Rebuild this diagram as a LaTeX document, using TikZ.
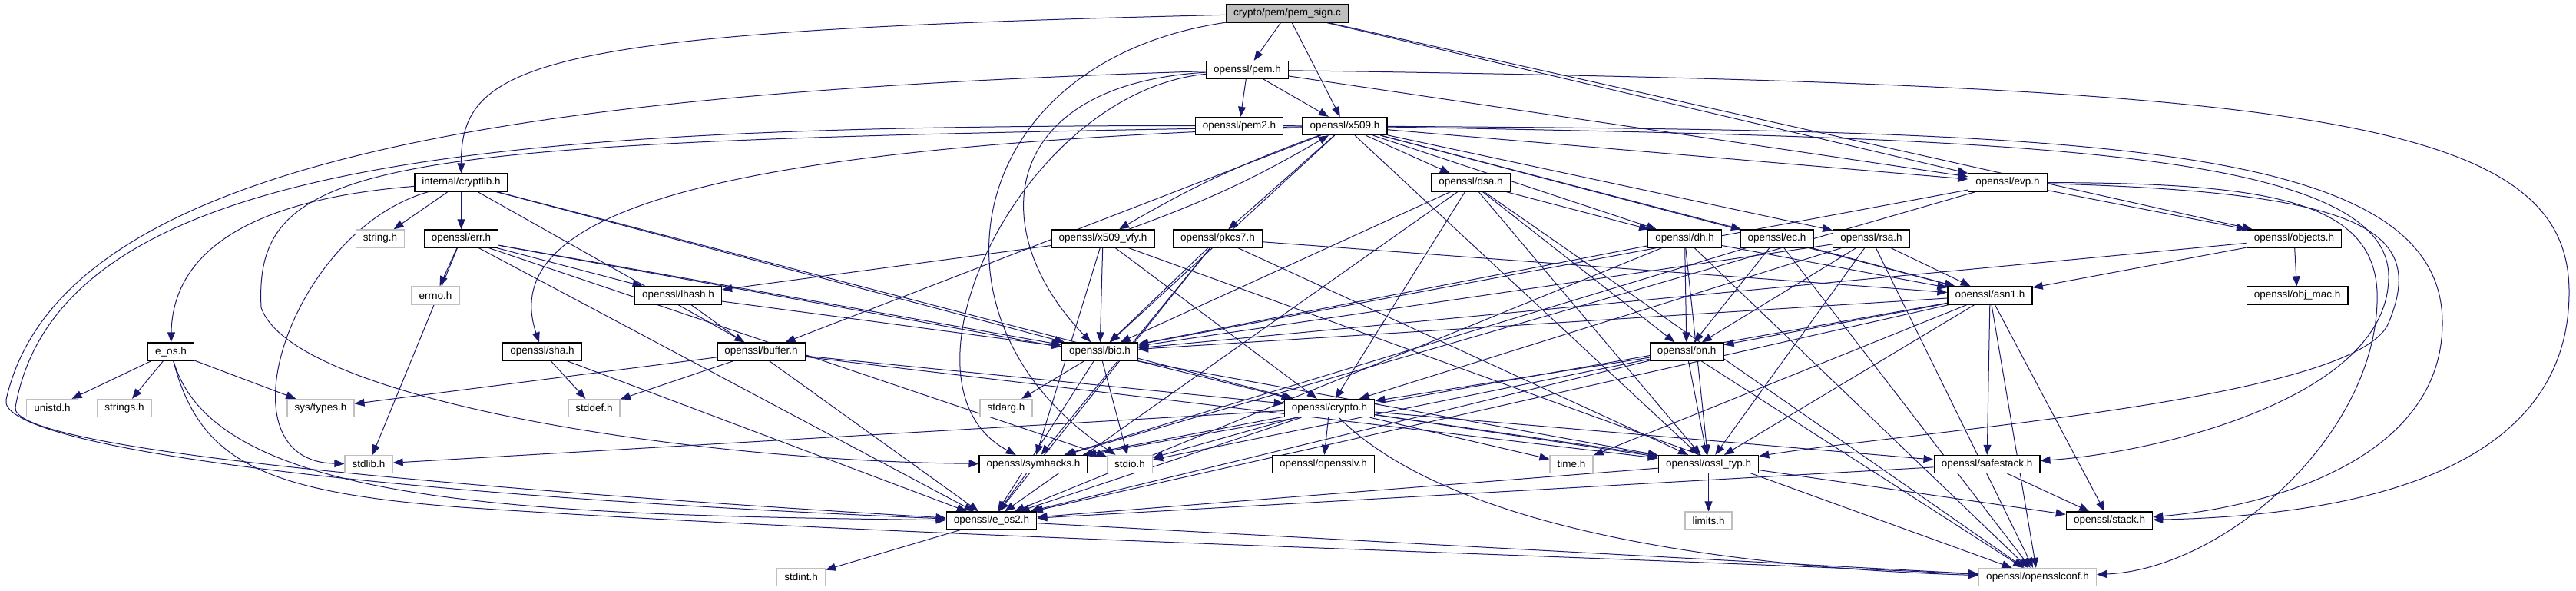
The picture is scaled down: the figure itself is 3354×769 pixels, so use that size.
\documentclass[tikz,border=0pt]{standalone}
\usepackage{fontspec}
\setmainfont{Liberation Sans}
\usetikzlibrary{arrows.meta,backgrounds}
\definecolor{navyedge}{RGB}{25,25,112}
\definecolor{stubgray}{RGB}{191,191,191}
\definecolor{srcgray}{RGB}{191,191,191}

\begin{document}
\begin{tikzpicture}[
  x=0.5pt, y=-0.5pt,
  font=\fontsize{6.75}{8}\selectfont,
  header/.style={draw=black, line width=0.65pt, fill=white, inner xsep=4.8pt, inner ysep=0pt, minimum height=11.5pt},
  syshdr/.style={header, draw=stubgray},
  source/.style={header, fill=srcgray},
  dep/.style={draw=navyedge, line width=0.5pt, -{Triangle[length=6.5pt,width=5pt]}}
]
\useasboundingbox (0,0) rectangle (3354,769);

% rows follow the include depth
\node[source] (pemsign) at (1676,17.5) {crypto/pem/pem\_sign.c};
\node[header] (pem) at (1624,91) {openssl/pem.h};
\node[header] (pemtwo) at (1613.5,164) {openssl/pem2.h};
\node[header] (x509) at (1751,164) {openssl/x509.h};
\node[header] (cryptlib) at (600.5,237.5) {internal/cryptlib.h};
\node[header] (dsa) at (1915,237.5) {openssl/dsa.h};
\node[header] (evp) at (2614,237.5) {openssl/evp.h};
\node[syshdr] (string) at (495,310.5) {string.h};
\node[header] (err) at (600.5,310.5) {openssl/err.h};
\node[header] (x509vfy) at (1436,310.5) {openssl/x509\_vfy.h};
\node[header] (pkcs7) at (1585.5,310.5) {openssl/pkcs7.h};
\node[header] (dh) at (2193.5,310.5) {openssl/dh.h};
\node[header] (ec) at (2313.5,310.5) {openssl/ec.h};
\node[header] (rsa) at (2436.5,310.5) {openssl/rsa.h};
\node[header] (objects) at (2987,310.5) {openssl/objects.h};
\node[syshdr] (errno) at (567,384.5) {errno.h};
\node[header] (lhash) at (883,384.5) {openssl/lhash.h};
\node[header] (asn1) at (2591,384.5) {openssl/asn1.h};
\node[header] (objmac) at (2991,384.5) {openssl/obj\_mac.h};
\node[header] (eos) at (222.5,457.5) {e\_os.h};
\node[header] (sha) at (706,457.5) {openssl/sha.h};
\node[header] (buffer) at (991,457.5) {openssl/buffer.h};
\node[header] (bio) at (1432,457.5) {openssl/bio.h};
\node[header] (bn) at (2196,457.5) {openssl/bn.h};
\node[syshdr] (unistd) at (68,531) {unistd.h};
\node[syshdr] (strings) at (162,531) {strings.h};
\node[syshdr] (systypes) at (417.5,531) {sys/types.h};
\node[syshdr] (stddef) at (773.5,531) {stddef.h};
\node[syshdr] (stdarg) at (1310,531) {stdarg.h};
\node[header] (crypto) at (1731,531) {openssl/crypto.h};
\node[syshdr] (stdlib) at (480,604) {stdlib.h};
\node[header] (symhacks) at (1345.5,604) {openssl/symhacks.h};
\node[syshdr] (stdio) at (1471,604) {stdio.h};
\node[header] (opensslv) at (1723,604) {openssl/opensslv.h};
\node[syshdr] (time) at (2046,604) {time.h};
\node[header] (ossltyp) at (2224.5,604) {openssl/ossl\_typ.h};
\node[header] (safestack) at (2587,604) {openssl/safestack.h};
\node[header] (eostwo) at (1291,677.5) {openssl/e\_os2.h};
\node[syshdr] (limits) at (2224.5,677.5) {limits.h};
\node[header] (stack) at (2746.5,677.5) {openssl/stack.h};
\node[syshdr] (stdint) at (1043,751) {stdint.h};
\node[syshdr] (opensslconf) at (2653,751) {openssl/opensslconf.h};

\begin{scope}[on background layer]
% crypto/pem/pem_sign.c
\draw[dep] (pemsign) -- (pem);
\draw[dep] (pemsign) -- (x509);
\draw[dep] (pemsign) -- (evp);
\draw[dep] (pemsign) -- (objects);
\draw[dep] (pemsign) .. controls (700,40) and (600,80) .. (cryptlib);
\draw[dep] (pemsign) .. controls (1250,80) and (1190,420) .. (stdio);
% openssl/pem.h
\draw[dep] (pem) -- (pemtwo);
\draw[dep] (pem) -- (x509);
\draw[dep] (pem) -- (evp);
\draw[dep] (pem) .. controls (1300,110) and (1280,300) .. (bio);
\draw[dep] (pem) .. controls (1330,120) and (1150,500) .. (symhacks);
\draw[dep] (pem) .. controls (3000,110) and (3345,150) .. (3345,380) .. controls (3345,600) and (3100,670) .. (stack);
\draw[dep] (pem) .. controls (700,120) and (80,200) .. (8,520) .. controls (-4,575) and (400,640) .. (eostwo);
% openssl/x509.h
\draw[dep] (x509) to[bend right=5] (x509vfy);
\draw[dep] (x509vfy) to[bend right=5] (x509);
\draw[dep] (x509) -- (pkcs7);
\draw[dep] (x509) -- (dsa);
\draw[dep] (x509) -- (dh);
\draw[dep] (x509) -- (ec);
\draw[dep] (x509) -- (rsa);
\draw[dep] (x509) -- (evp);
\draw[dep] (x509) -- (asn1);
\draw[dep] (x509) -- (bio);
\draw[dep] (x509) -- (buffer);
\draw[dep] (x509) -- (ossltyp);
\draw[dep] (x509) .. controls (1000,190) and (640,260) .. (sha);
\draw[dep] (x509) .. controls (500,185) and (330,200) .. (340,400) .. controls (380,520) and (900,600) .. (symhacks);
\draw[dep] (x509) .. controls (700,160) and (80,190) .. (20,530) .. controls (12,580) and (500,630) .. (eostwo);
\draw[dep] (x509) .. controls (2600,180) and (3110,190) .. (3110,360) .. controls (3110,520) and (2800,590) .. (safestack);
\draw[dep] (x509) .. controls (2700,170) and (3180,180) .. (3180,420) .. controls (3180,600) and (2950,660) .. (stack);
% internal/cryptlib.h
\draw[dep] (cryptlib) -- (string);
\draw[dep] (cryptlib) -- (err);
\draw[dep] (cryptlib) -- (buffer);
\draw[dep] (cryptlib) -- (bio);
\draw[dep] (cryptlib) -- (crypto);
\draw[dep] (cryptlib) .. controls (320,260) and (225,330) .. (eos);
\draw[dep] (cryptlib) .. controls (380,300) and (280,600) .. (stdlib);
% openssl/err.h
\draw[dep] (err) -- (errno);
\draw[dep] (err) -- (lhash);
\draw[dep] (err) -- (stdlib);
\draw[dep] (err) -- (stdio);
\draw[dep] (err) -- (bio);
\draw[dep] (err) -- (ossltyp);
\draw[dep] (err) -- (eostwo);
% e_os.h
\draw[dep] (eos) -- (unistd);
\draw[dep] (eos) -- (strings);
\draw[dep] (eos) -- (systypes);
\draw[dep] (eos) .. controls (280,660) and (700,670) .. (eostwo);
\draw[dep] (eos) .. controls (260,600) and (340,640) .. (600,660) .. controls (1200,700) and (2000,720) .. (opensslconf);
% openssl/sha.h, openssl/lhash.h, openssl/buffer.h
\draw[dep] (sha) -- (stddef);
\draw[dep] (sha) -- (eostwo);
\draw[dep] (lhash) -- (bio);
\draw[dep] (lhash) -- (eostwo);
\draw[dep] (buffer) -- (stddef);
\draw[dep] (buffer) -- (systypes);
\draw[dep] (buffer) -- (crypto);
\draw[dep] (buffer) -- (ossltyp);
% openssl/x509_vfy.h, openssl/pkcs7.h
\draw[dep] (x509vfy) -- (lhash);
\draw[dep] (x509vfy) -- (bio);
\draw[dep] (x509vfy) -- (crypto);
\draw[dep] (x509vfy) -- (symhacks);
\draw[dep] (x509vfy) -- (opensslconf);
\draw[dep] (pkcs7) -- (asn1);
\draw[dep] (pkcs7) -- (bio);
\draw[dep] (pkcs7) -- (eostwo);
\draw[dep] (pkcs7) -- (symhacks);
\draw[dep] (pkcs7) -- (ossltyp);
% openssl/dsa.h, openssl/dh.h, openssl/ec.h, openssl/rsa.h
\draw[dep] (dsa) -- (dh);
\draw[dep] (dsa) -- (bio);
\draw[dep] (dsa) -- (crypto);
\draw[dep] (dsa) -- (bn);
\draw[dep] (dsa) -- (ossltyp);
\draw[dep] (dsa) -- (eostwo);
\draw[dep] (dsa) -- (opensslconf);
\draw[dep] (dh) -- (asn1);
\draw[dep] (dh) -- (bio);
\draw[dep] (dh) -- (bn);
\draw[dep] (dh) -- (ossltyp);
\draw[dep] (dh) -- (eostwo);
\draw[dep] (dh) -- (opensslconf);
\draw[dep] (ec) -- (asn1);
\draw[dep] (ec) -- (bn);
\draw[dep] (ec) -- (symhacks);
\draw[dep] (ec) -- (opensslconf);
\draw[dep] (rsa) -- (asn1);
\draw[dep] (rsa) -- (bio);
\draw[dep] (rsa) -- (bn);
\draw[dep] (rsa) -- (crypto);
\draw[dep] (rsa) -- (ossltyp);
\draw[dep] (rsa) -- (opensslconf);
% openssl/evp.h, openssl/objects.h
\draw[dep] (evp) -- (objects);
\draw[dep] (evp) -- (bio);
\draw[dep] (evp) -- (symhacks);
\draw[dep] (evp) .. controls (3080,250) and (3160,300) .. (3110,420) .. controls (3070,520) and (2500,560) .. (ossltyp);
\draw[dep] (evp) .. controls (2950,238) and (3090,260) .. (3095,380) .. controls (3100,560) and (2900,740) .. (opensslconf);
\draw[dep] (objects) -- (objmac);
\draw[dep] (objects) -- (asn1);
\draw[dep] (objects) -- (bio);
% openssl/asn1.h
\draw[dep] (asn1) -- (bn);
\draw[dep] (asn1) -- (bio);
\draw[dep] (asn1) -- (time);
\draw[dep] (asn1) -- (ossltyp);
\draw[dep] (asn1) -- (symhacks);
\draw[dep] (asn1) -- (safestack);
\draw[dep] (asn1) -- (stack);
\draw[dep] (asn1) -- (eostwo);
\draw[dep] (asn1) -- (opensslconf);
% openssl/bio.h, openssl/bn.h
\draw[dep] (bio) -- (stdarg);
\draw[dep] (bio) -- (stdio);
\draw[dep] (bio) -- (crypto);
\draw[dep] (bio) -- (eostwo);
\draw[dep] (bn) -- (crypto);
\draw[dep] (bn) -- (stdio);
\draw[dep] (bn) -- (ossltyp);
\draw[dep] (bn) -- (eostwo);
\draw[dep] (bn) -- (opensslconf);
% openssl/crypto.h
\draw[dep] (crypto) -- (stdlib);
\draw[dep] (crypto) -- (symhacks);
\draw[dep] (crypto) -- (stdio);
\draw[dep] (crypto) -- (opensslv);
\draw[dep] (crypto) -- (time);
\draw[dep] (crypto) -- (ossltyp);
\draw[dep] (crypto) -- (safestack);
\draw[dep] (crypto) -- (stack);
\draw[dep] (crypto) -- (eostwo);
\draw[dep] (crypto) .. controls (1900,700) and (2300,740) .. (opensslconf);
% lower rows
\draw[dep] (symhacks) -- (eostwo);
\draw[dep] (ossltyp) -- (limits);
\draw[dep] (ossltyp) -- (eostwo);
\draw[dep] (safestack) -- (stack);
\draw[dep] (safestack) -- (eostwo);
\draw[dep] (eostwo) -- (stdint);
\draw[dep] (eostwo) -- (opensslconf);
\end{scope}
\end{tikzpicture}
\end{document}
